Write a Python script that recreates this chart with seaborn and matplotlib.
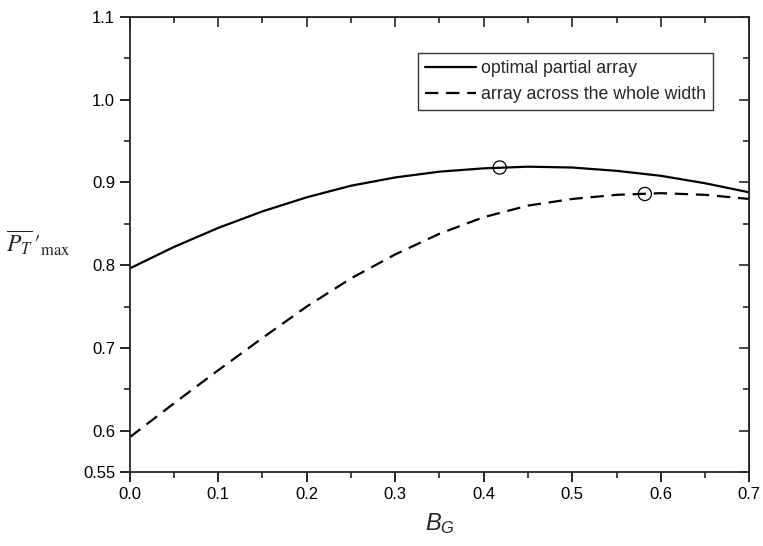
import matplotlib
matplotlib.use('Agg')
import matplotlib.pyplot as plt
import seaborn as sns
import pandas as pd
import numpy as np
from matplotlib.ticker import MultipleLocator, FixedLocator

# data
bg = [0.0, 0.05, 0.1, 0.15, 0.2, 0.25, 0.3, 0.35, 0.4, 0.45, 0.5, 0.55, 0.6, 0.65, 0.7]
partial = [0.796, 0.822, 0.845, 0.865, 0.882, 0.896, 0.906, 0.913, 0.917, 0.919, 0.918, 0.914, 0.908, 0.899, 0.888]
whole = [0.592, 0.633, 0.673, 0.712, 0.750, 0.784, 0.813, 0.838, 0.858, 0.872, 0.880, 0.885, 0.887, 0.885, 0.880]
opt_x = [0.418, 0.582]
opt_y = [0.918, 0.886]

sns.set_style('ticks')
plt.rcParams['font.family'] = ['Liberation Sans', 'DejaVu Sans']
plt.rcParams['mathtext.fontset'] = 'custom'
plt.rcParams['mathtext.it'] = 'Liberation Sans:italic'
plt.rcParams['mathtext.rm'] = 'Liberation Sans'

df = pd.DataFrame({'BG': bg, 'partial': partial, 'whole': whole})

fig = plt.figure(figsize=(7.63, 5.46), dpi=100)
ax = fig.add_axes([0.170, 0.1355, 0.812, 0.8335])

sns.lineplot(x='BG', y='partial', data=df, color='black', linewidth=1.6,
             label='optimal partial array', ax=ax)
sns.lineplot(x='BG', y='whole', data=df, color='black', linewidth=1.6,
             dashes=False, label='array across the whole width', ax=ax)
ax.lines[1].set_dashes((6, 3.5))

# optimum points
sns.scatterplot(x=opt_x, y=opt_y, marker='o', s=90, facecolor='none',
                edgecolor='black', linewidth=0.9, ax=ax, zorder=5)

ax.set_xlim(0, 0.7)
ax.set_ylim(0.55, 1.1)
ax.xaxis.set_major_locator(MultipleLocator(0.1))
ax.xaxis.set_minor_locator(MultipleLocator(0.05))
ax.set_xticklabels(['%.1f' % v for v in ax.get_xticks()])
yt = [0.55, 0.6, 0.7, 0.8, 0.9, 1.0, 1.1]
ax.yaxis.set_major_locator(FixedLocator(yt))
ax.set_yticklabels(['0.55', '0.6', '0.7', '0.8', '0.9', '1.0', '1.1'])
ax.yaxis.set_minor_locator(FixedLocator([0.65, 0.75, 0.85, 0.95, 1.05]))

ax.tick_params(which='major', direction='out', length=7, width=1.2,
               labelsize=12, colors='black')
ax.tick_params(which='minor', direction='out', length=4, width=1.2)
for s in ax.spines.values():
    s.set_linewidth(1.3)
    s.set_visible(True)

# inward ticks on top and right
top = ax.secondary_xaxis('top')
top.xaxis.set_major_locator(MultipleLocator(0.1))
top.xaxis.set_minor_locator(MultipleLocator(0.05))
top.tick_params(which='major', direction='in', length=7, width=1.2, labeltop=False)
top.tick_params(which='minor', direction='in', length=4, width=1.2)
right = ax.secondary_yaxis('right')
right.yaxis.set_major_locator(FixedLocator(yt))
right.yaxis.set_minor_locator(FixedLocator([0.65, 0.75, 0.85, 0.95, 1.05]))
right.tick_params(which='major', direction='in', length=7, width=1.2, labelright=False)
right.tick_params(which='minor', direction='in', length=4, width=1.2)

ax.set_xlabel(r'$B_G$', fontsize=17, labelpad=7)
ax.set_ylabel(r"$\overline{P_T}\,\prime_{\mathrm{max}}$", fontsize=17,
              rotation=0)
ax.yaxis.set_label_coords(-0.148, 0.47)
ax.yaxis.label.set_math_fontfamily('stix')

leg = ax.legend(loc='upper left', bbox_to_anchor=(0.465, 0.921), borderaxespad=0,
                fontsize=12.8, frameon=True, fancybox=False, handlelength=2.85,
                handletextpad=0.3, borderpad=0.4, labelspacing=0.5)
leg.get_frame().set_edgecolor('black')
leg.get_frame().set_linewidth(1.0)

fig.savefig('out.png', dpi=100)
